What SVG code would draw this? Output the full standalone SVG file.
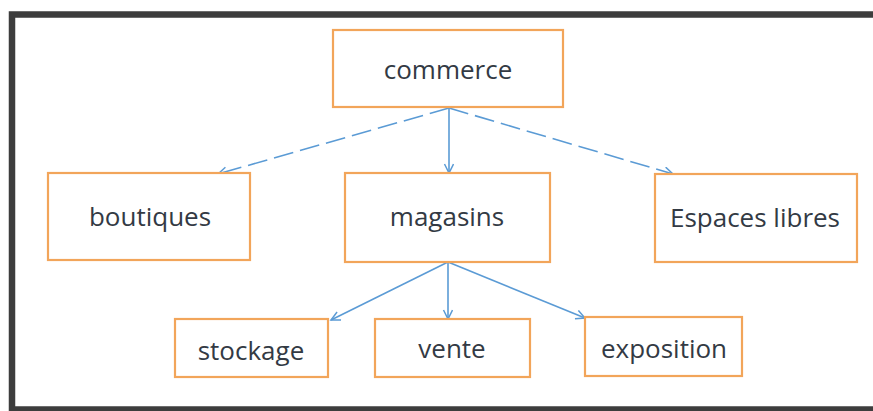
<svg xmlns="http://www.w3.org/2000/svg" width="873" height="411" viewBox="0 0 873 411">
  <style>
    .box { fill: #ffffff; stroke: #f2a55a; stroke-width: 2.2; }
    .lbl { font-family: "Open Sans", "Liberation Sans", sans-serif; font-size: 26px; fill: #333a44; text-anchor: middle; }
    .link { stroke: #5b9bd5; stroke-width: 1.6; fill: none; marker-end: url(#head); }
    .dashed { stroke-dasharray: 20 7; }
  </style>
  <defs>
    <marker id="head" markerUnits="userSpaceOnUse" markerWidth="12" markerHeight="12" refX="10" refY="5" orient="auto">
      <path d="M1,0.5 L10,5 L1,9.5" fill="none" stroke="#5b9bd5" stroke-width="1.5"/>
    </marker>
  </defs>

  <rect x="0" y="0" width="873" height="411" fill="#ffffff"/>
  <!-- outer frame: left, top and bottom edges -->
  <rect x="12" y="14.5" width="880" height="395" fill="none" stroke="#3d3d3d" stroke-width="6.5"/>

  <g id="connectors">
    <line class="link dashed" x1="449" y1="108" x2="218" y2="174"/>
    <line class="link" x1="449" y1="108" x2="449" y2="173"/>
    <line class="link dashed" x1="449" y1="108" x2="673" y2="174"/>
    <line class="link" x1="448" y1="262" x2="331" y2="320"/>
    <line class="link" x1="448" y1="262" x2="448" y2="319"/>
    <line class="link" x1="448" y1="262" x2="585" y2="318"/>
  </g>

  <g id="commerce">
    <rect class="box" x="333" y="30" width="230" height="77"/>
    <text class="lbl" x="448" y="79">commerce</text>
  </g>
  <g id="boutiques">
    <rect class="box" x="48" y="173" width="202" height="87"/>
    <text class="lbl" x="150" y="226">boutiques</text>
  </g>
  <g id="magasins">
    <rect class="box" x="345" y="173" width="205" height="89"/>
    <text class="lbl" x="447" y="226">magasins</text>
  </g>
  <g id="espaces-libres">
    <rect class="box" x="655" y="174" width="202" height="88"/>
    <text class="lbl" x="755" y="227">Espaces libres</text>
  </g>
  <g id="stockage">
    <rect class="box" x="175" y="319" width="153" height="58"/>
    <text class="lbl" x="251" y="360">stockage</text>
  </g>
  <g id="vente">
    <rect class="box" x="375" y="319" width="155" height="58"/>
    <text class="lbl" x="452" y="358">vente</text>
  </g>
  <g id="exposition">
    <rect class="box" x="585" y="317" width="157" height="59"/>
    <text class="lbl" x="664" y="358">exposition</text>
  </g>
</svg>
